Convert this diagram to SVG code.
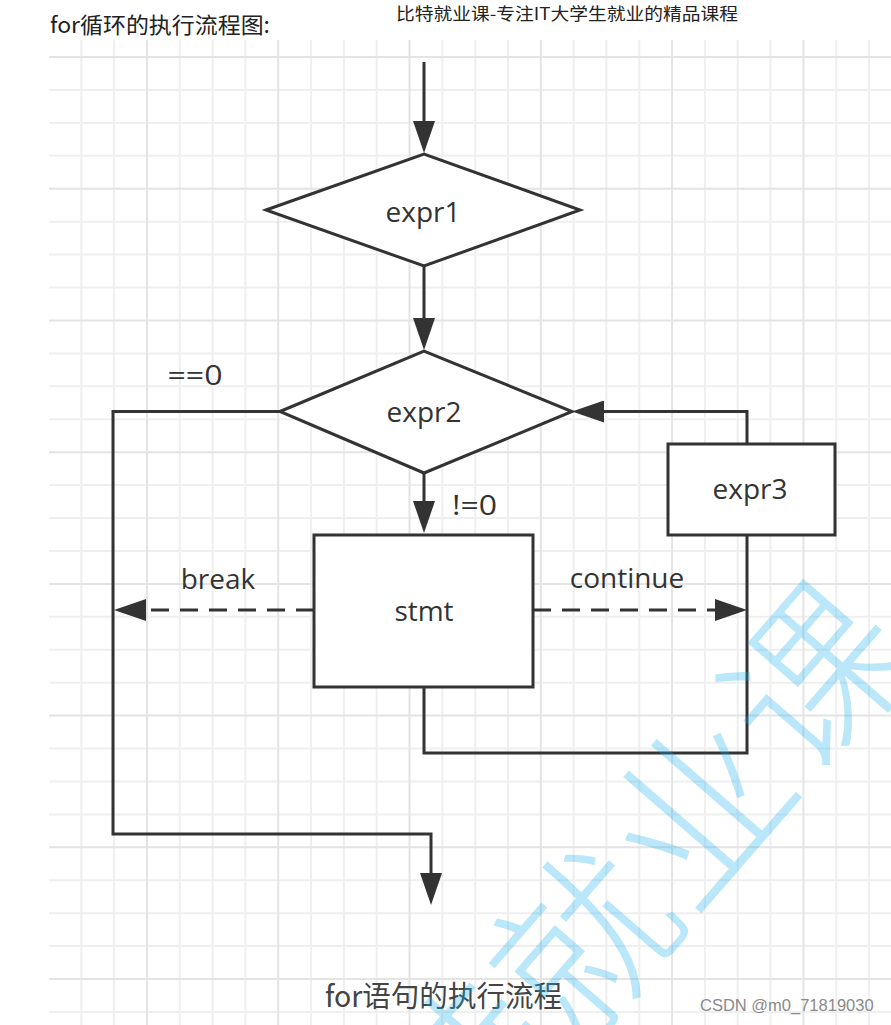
<svg xmlns="http://www.w3.org/2000/svg" width="891" height="1025" viewBox="0 0 891 1025">
<style>
.minor{stroke:#efefef;stroke-width:2;fill:none}
.major{stroke:#e4e4e4;stroke-width:2;fill:none}
.shape{fill:#fff;stroke:#333;stroke-width:3}
.conn{fill:none;stroke:#333;stroke-width:3}
.dash{stroke-dasharray:18 11}
.lbl{font-family:"Open Sans","Noto Sans",sans-serif;font-size:28px;fill:#333;text-anchor:middle}
.cjk{font-family:"Noto Sans CJK SC",sans-serif}
</style>
<defs>
<marker id="ah" viewBox="0 0 32 22" refX="4" refY="11" markerWidth="32" markerHeight="22" markerUnits="userSpaceOnUse" orient="auto">
<path d="M0,0 L32,11 L0,22 Z" fill="#333"/>
</marker>
</defs>
<rect width="891" height="1025" fill="#fff"/>
<g id="grid">
<path class="minor" d="M49,89.9H891M49,122.9H891M49,155.8H891M49,221.7H891M49,254.6H891M49,287.5H891M49,353.4H891M49,386.3H891M49,419.2H891M49,485.1H891M49,518H891M49,551H891M49,616.8H891M49,649.7H891M49,682.7H891M49,748.5H891M49,781.5H891M49,814.4H891M49,880.3H891M49,913.2H891M49,946.1H891M49,1012H891
M81.3,40V1025M114.1,40V1025M179.8,40V1025M212.6,40V1025M245.4,40V1025M311.1,40V1025M343.9,40V1025M376.7,40V1025M442.3,40V1025M475.2,40V1025M508,40V1025M573.6,40V1025M606.4,40V1025M639.3,40V1025M704.9,40V1025M737.7,40V1025M770.5,40V1025M836.2,40V1025M869,40V1025"/>
<path class="major" d="M49,57H891M49,188.7H891M49,320.4H891M49,452.2H891M49,583.9H891M49,715.6H891M49,847.3H891M49,979H891
M147,40V1025M278.2,40V1025M409.5,40V1025M540.8,40V1025M672.1,40V1025M803.4,40V1025"/>
</g>
<text id="title" class="cjk" x="50" y="33" font-size="22" fill="#222" textLength="220" lengthAdjust="spacingAndGlyphs">for循环的执行流程图:</text>
<text id="header" class="cjk" x="396" y="20" font-size="17" fill="#222" textLength="342" lengthAdjust="spacingAndGlyphs">比特就业课-专注IT大学生就业的精品课程</text>
<g id="connectors">
<path class="conn" d="M424,62V125" marker-end="url(#ah)"/>
<path class="conn" d="M424,266V322" marker-end="url(#ah)"/>
<path class="conn" d="M424,473V505" marker-end="url(#ah)"/>
<path class="conn" d="M280,411.5H113V834H431V877" marker-end="url(#ah)"/>
<path class="conn dash" d="M314,610H142" marker-end="url(#ah)"/>
<path class="conn dash" d="M533,610H719" marker-end="url(#ah)"/>
<path class="conn" d="M424,687V753H747V535"/>
<path class="conn" d="M747,444V411.5H600" marker-end="url(#ah)"/>
<text class="lbl" x="195" y="385" textLength="55" lengthAdjust="spacingAndGlyphs">==0</text>
<text class="lbl" x="474.5" y="515" textLength="45" lengthAdjust="spacingAndGlyphs">!=0</text>
<text class="lbl" x="218" y="589">break</text>
<text class="lbl" x="627" y="588">continue</text>
</g>
<g id="expr1">
<polygon class="shape" points="266,210 424,154 580,210 424,266"/>
<text class="lbl" x="423" y="222">expr1</text>
</g>
<g id="expr2">
<polygon class="shape" points="280,411.5 424,351 572,411.5 424,473"/>
<text class="lbl" x="424" y="422">expr2</text>
</g>
<g id="stmt">
<rect class="shape" x="314" y="535" width="219" height="152"/>
<text class="lbl" x="424" y="621">stmt</text>
</g>
<g id="expr3">
<rect class="shape" x="668" y="444" width="167" height="91"/>
<text class="lbl" x="750" y="499">expr3</text>
</g>
<text id="caption" class="cjk" x="325" y="1007" font-size="29" fill="#444" textLength="237" lengthAdjust="spacingAndGlyphs">for语句的执行流程</text>
<text id="watermark" class="cjk" transform="translate(583,942) rotate(-49)" x="0" y="67" font-size="176" font-weight="300" text-anchor="middle" fill="#1ab0f0" fill-opacity="0.3">比特就业课</text>
<text id="csdn" x="700" y="1011" font-family="'Liberation Sans',Arial,sans-serif" font-size="16.5" fill="#8a8a8a">CSDN @m0_71819030</text>
</svg>
